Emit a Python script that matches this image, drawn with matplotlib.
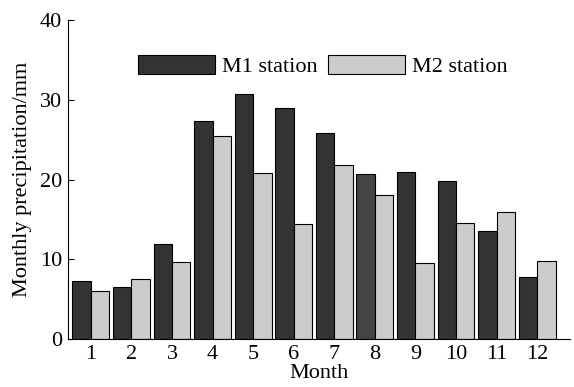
import numpy as np
import matplotlib.pyplot as plt
from matplotlib.patches import Patch

plt.rcParams['font.family'] = ['Liberation Serif', 'DejaVu Serif']

months = np.arange(1, 13)
month_labels = [str(m) for m in months]
m1 = [7.3, 6.5, 11.9, 27.4, 30.7, 29.0, 25.9, 20.7, 20.9, 19.8, 13.5, 7.8]
m2 = [6.0, 7.5, 9.6, 25.5, 20.8, 14.4, 21.8, 18.1, 9.5, 14.5, 15.9, 9.8]

dark = '#333333'
light = '#cccccc'
w = 0.455

fig = plt.figure(figsize=(5.74, 3.87), dpi=100)
ax = fig.add_axes([0.118, 0.124, 0.875, 0.824])

m1_colors = [dark] * 12
m1_colors[7] = '#444444'
ax.bar(months - w / 2, m1, width=w, color=m1_colors, edgecolor='black', linewidth=0.8)
ax.bar(months + w / 2, m2, width=w, color=light, edgecolor='black', linewidth=0.8)

ax.set_xlim(0.43, 12.81)
ax.set_ylim(0, 40)
ax.set_xticks(months)
ax.set_xticklabels(month_labels)
ax.set_yticks([0, 10, 20, 30, 40])
ax.tick_params(axis='x', length=0, labelsize=16, pad=4)
ax.tick_params(axis='y', direction='in', length=4, labelsize=16, pad=4)
ax.spines['top'].set_visible(False)
ax.spines['right'].set_visible(False)
ax.set_xlabel('Month', fontsize=16, labelpad=0)
ax.set_ylabel('Monthly precipitation/mm', fontsize=16, labelpad=6)

handles = [Patch(facecolor=dark, edgecolor='black', linewidth=0.8, label='M1 station'),
           Patch(facecolor=light, edgecolor='black', linewidth=0.8, label='M2 station')]
ax.legend(handles=handles, ncol=2, frameon=False, fontsize=16,
          handlelength=3.45, handleheight=0.9, handletextpad=0.3, columnspacing=0.5,
          loc='upper center', bbox_to_anchor=(0.508, 0.952))

fig.savefig('out.png', dpi=100)
